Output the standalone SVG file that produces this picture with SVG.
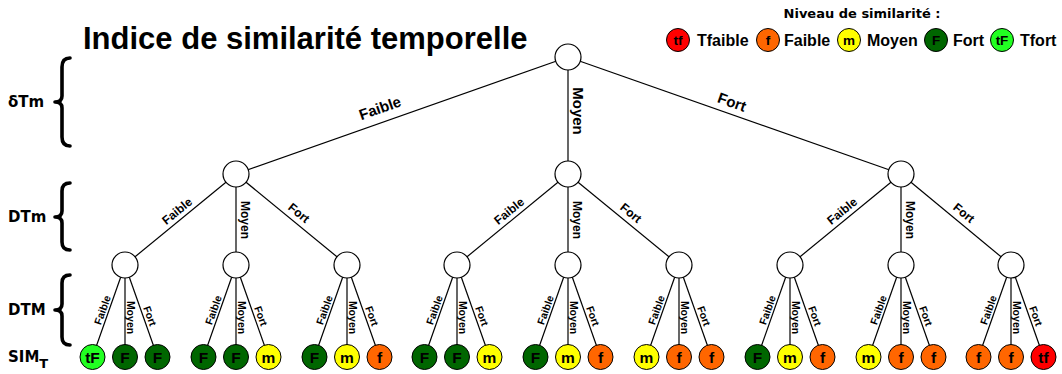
<svg xmlns="http://www.w3.org/2000/svg" width="1062" height="374" viewBox="0 0 1062 374">
<style>
.n{fill:#fff;stroke:#000;stroke-width:1.2}
.c{stroke:#000;stroke-width:1.2;fill:none}
.br{stroke:#000;stroke-width:3.6;fill:none;stroke-linecap:round;stroke-linejoin:round}
.lv{stroke:#000;stroke-width:1}
.tF{fill:#22ff22}.F{fill:#006600}.m{fill:#ffff00}.f{fill:#ff6600}.tf{fill:#ff0000}
text{font-family:"Liberation Sans",Arial,sans-serif;font-weight:bold;fill:#000}
.e1{font-size:15px;text-anchor:middle}
.e2{font-size:12px;text-anchor:middle}
.e3{font-size:10.5px;text-anchor:middle}
.lt{font-size:15.5px;text-anchor:middle}
.gt{font-size:13.5px;text-anchor:middle}
.side{font-family:"DejaVu Sans",sans-serif;font-size:15px}
.lg{font-size:16px}
</style>
<g id="title"><text x="83" y="49" style="font-size:31px">Indice de similarité temporelle</text></g>
<g id="legend">
<text x="862" y="18" style="font-family:'DejaVu Sans',sans-serif;font-size:13px;text-anchor:middle">Niveau de similarité :</text>
<circle class="lv tf" cx="678" cy="40" r="11.5"/><text class="gt" x="678" y="45">tf</text><text class="lg" x="697" y="46">Tfaible</text>
<circle class="lv f" cx="768" cy="40" r="11.5"/><text class="gt" x="768" y="45">f</text><text class="lg" x="784" y="46">Faible</text>
<circle class="lv m" cx="849" cy="40" r="11.5"/><text class="gt" x="849" y="45">m</text><text class="lg" x="867" y="46">Moyen</text>
<circle class="lv F" cx="936" cy="40" r="11.5"/><text class="gt" x="936" y="45">F</text><text class="lg" x="953" y="46">Fort</text>
<circle class="lv tF" cx="1002" cy="40" r="11.5"/><text class="gt" x="1002" y="45">tF</text><text class="lg" x="1020" y="46">Tfort</text>
</g>
<g id="levels">
<text class="side" x="8" y="107">δTm</text>
<path class="br" d="M70 58 Q62 58 62 67 L62 96 Q62 102 55 102 Q62 102 62 108 L62 137 Q62 146 70 146"/>
<text class="side" x="8" y="222">DTm</text>
<path class="br" d="M70 183 Q62 183 62 191 L62 211 Q62 217 55 217 Q62 217 62 223 L62 242 Q62 250 70 250"/>
<text class="side" x="8" y="315">DTM</text>
<path class="br" d="M70 275 Q62 275 62 283 L62 304 Q62 310 55 310 Q62 310 62 316 L62 337 Q62 345 70 345"/>
<text class="side" x="8" y="362">SIM<tspan dy="6" style="font-size:13px">T</tspan></text>
</g>
<g id="connectors">
<line class="c" x1="568" y1="57" x2="236" y2="174"/>
<line class="c" x1="568" y1="57" x2="568" y2="174"/>
<line class="c" x1="568" y1="57" x2="901" y2="174"/>
<line class="c" x1="236" y1="174" x2="125" y2="265"/>
<line class="c" x1="236" y1="174" x2="236" y2="265"/>
<line class="c" x1="236" y1="174" x2="347" y2="265"/>
<line class="c" x1="568" y1="174" x2="457" y2="265"/>
<line class="c" x1="568" y1="174" x2="568" y2="265"/>
<line class="c" x1="568" y1="174" x2="679" y2="265"/>
<line class="c" x1="901" y1="174" x2="790" y2="265"/>
<line class="c" x1="901" y1="174" x2="901" y2="265"/>
<line class="c" x1="901" y1="174" x2="1011" y2="265"/>
<line class="c" x1="125" y1="265" x2="92.5" y2="357"/><line class="c" x1="125" y1="265" x2="125" y2="357"/><line class="c" x1="125" y1="265" x2="157.5" y2="357"/>
<line class="c" x1="236" y1="265" x2="203.5" y2="357"/><line class="c" x1="236" y1="265" x2="236" y2="357"/><line class="c" x1="236" y1="265" x2="268.5" y2="357"/>
<line class="c" x1="347" y1="265" x2="314.5" y2="357"/><line class="c" x1="347" y1="265" x2="347" y2="357"/><line class="c" x1="347" y1="265" x2="379.5" y2="357"/>
<line class="c" x1="457" y1="265" x2="424.5" y2="357"/><line class="c" x1="457" y1="265" x2="457" y2="357"/><line class="c" x1="457" y1="265" x2="489.5" y2="357"/>
<line class="c" x1="568" y1="265" x2="535.5" y2="357"/><line class="c" x1="568" y1="265" x2="568" y2="357"/><line class="c" x1="568" y1="265" x2="600.5" y2="357"/>
<line class="c" x1="679" y1="265" x2="646.5" y2="357"/><line class="c" x1="679" y1="265" x2="679" y2="357"/><line class="c" x1="679" y1="265" x2="711.5" y2="357"/>
<line class="c" x1="790" y1="265" x2="757.5" y2="357"/><line class="c" x1="790" y1="265" x2="790" y2="357"/><line class="c" x1="790" y1="265" x2="822.5" y2="357"/>
<line class="c" x1="901" y1="265" x2="868.5" y2="357"/><line class="c" x1="901" y1="265" x2="901" y2="357"/><line class="c" x1="901" y1="265" x2="933.5" y2="357"/>
<line class="c" x1="1011" y1="265" x2="978.5" y2="357"/><line class="c" x1="1011" y1="265" x2="1011" y2="357"/><line class="c" x1="1011" y1="265" x2="1043.5" y2="357"/>
</g>
<g id="edge-labels">
<text class="e1" transform="translate(380,108) rotate(-19.4)" dy="0.35em">Faible</text>
<text class="e1" transform="translate(578,111) rotate(90)" dy="0.35em">Moyen</text>
<text class="e1" transform="translate(732,102) rotate(19.4)" dy="0.35em">Fort</text>
<text class="e2" transform="translate(177,211) rotate(-39.3)" dy="0.35em">Faible</text>
<text class="e2" transform="translate(245,220) rotate(90)" dy="0.35em">Moyen</text>
<text class="e2" transform="translate(299,213) rotate(39.3)" dy="0.35em">Fort</text>
<text class="e2" transform="translate(509,211) rotate(-39.3)" dy="0.35em">Faible</text>
<text class="e2" transform="translate(577,220) rotate(90)" dy="0.35em">Moyen</text>
<text class="e2" transform="translate(631,213) rotate(39.3)" dy="0.35em">Fort</text>
<text class="e2" transform="translate(842,211) rotate(-39.3)" dy="0.35em">Faible</text>
<text class="e2" transform="translate(910,220) rotate(90)" dy="0.35em">Moyen</text>
<text class="e2" transform="translate(964,213) rotate(39.3)" dy="0.35em">Fort</text>
<g id="leaf-labels">
<text class="e3" transform="translate(102.5,310) rotate(-70.3)" dy="0.35em">Faible</text><text class="e3" transform="translate(130.5,317.5) rotate(90)" dy="0.35em">Moyen</text><text class="e3" transform="translate(150,316) rotate(70.3)" dy="0.35em">Fort</text>
<text class="e3" transform="translate(213.5,310) rotate(-70.3)" dy="0.35em">Faible</text><text class="e3" transform="translate(241.5,317.5) rotate(90)" dy="0.35em">Moyen</text><text class="e3" transform="translate(261,316) rotate(70.3)" dy="0.35em">Fort</text>
<text class="e3" transform="translate(324.5,310) rotate(-70.3)" dy="0.35em">Faible</text><text class="e3" transform="translate(352.5,317.5) rotate(90)" dy="0.35em">Moyen</text><text class="e3" transform="translate(372,316) rotate(70.3)" dy="0.35em">Fort</text>
<text class="e3" transform="translate(434.5,310) rotate(-70.3)" dy="0.35em">Faible</text><text class="e3" transform="translate(462.5,317.5) rotate(90)" dy="0.35em">Moyen</text><text class="e3" transform="translate(482,316) rotate(70.3)" dy="0.35em">Fort</text>
<text class="e3" transform="translate(545.5,310) rotate(-70.3)" dy="0.35em">Faible</text><text class="e3" transform="translate(573.5,317.5) rotate(90)" dy="0.35em">Moyen</text><text class="e3" transform="translate(593,316) rotate(70.3)" dy="0.35em">Fort</text>
<text class="e3" transform="translate(656.5,310) rotate(-70.3)" dy="0.35em">Faible</text><text class="e3" transform="translate(684.5,317.5) rotate(90)" dy="0.35em">Moyen</text><text class="e3" transform="translate(704,316) rotate(70.3)" dy="0.35em">Fort</text>
<text class="e3" transform="translate(767.5,310) rotate(-70.3)" dy="0.35em">Faible</text><text class="e3" transform="translate(795.5,317.5) rotate(90)" dy="0.35em">Moyen</text><text class="e3" transform="translate(815,316) rotate(70.3)" dy="0.35em">Fort</text>
<text class="e3" transform="translate(878.5,310) rotate(-70.3)" dy="0.35em">Faible</text><text class="e3" transform="translate(906.5,317.5) rotate(90)" dy="0.35em">Moyen</text><text class="e3" transform="translate(926,316) rotate(70.3)" dy="0.35em">Fort</text>
<text class="e3" transform="translate(988.5,310) rotate(-70.3)" dy="0.35em">Faible</text><text class="e3" transform="translate(1016.5,317.5) rotate(90)" dy="0.35em">Moyen</text><text class="e3" transform="translate(1036,316) rotate(70.3)" dy="0.35em">Fort</text>
</g>
</g>
<g id="root"><circle class="n" cx="568" cy="57" r="13"/></g>
<g id="n-faible"><circle class="n" cx="236" cy="174" r="13"/></g>
<g id="n-moyen"><circle class="n" cx="568" cy="174" r="13"/></g>
<g id="n-fort"><circle class="n" cx="901" cy="174" r="13"/></g>
<g id="n-ff"><circle class="n" cx="125" cy="265" r="13"/></g>
<g id="n-fm"><circle class="n" cx="236" cy="265" r="13"/></g>
<g id="n-fF"><circle class="n" cx="347" cy="265" r="13"/></g>
<g id="n-mf"><circle class="n" cx="457" cy="265" r="13"/></g>
<g id="n-mm"><circle class="n" cx="568" cy="265" r="13"/></g>
<g id="n-mF"><circle class="n" cx="679" cy="265" r="13"/></g>
<g id="n-Ff"><circle class="n" cx="790" cy="265" r="13"/></g>
<g id="n-Fm"><circle class="n" cx="901" cy="265" r="13"/></g>
<g id="n-FF"><circle class="n" cx="1011" cy="265" r="13"/></g>
<g id="leaves">
<g id="l1"><circle class="lv tF" cx="92.5" cy="357" r="12.5"/><text class="lt" x="92.5" y="362.5">tF</text></g>
<g id="l2"><circle class="lv F" cx="125" cy="357" r="12.5"/><text class="lt" x="125" y="362.5">F</text></g>
<g id="l3"><circle class="lv F" cx="157.5" cy="357" r="12.5"/><text class="lt" x="157.5" y="362.5">F</text></g>
<g id="l4"><circle class="lv F" cx="203.5" cy="357" r="12.5"/><text class="lt" x="203.5" y="362.5">F</text></g>
<g id="l5"><circle class="lv F" cx="236" cy="357" r="12.5"/><text class="lt" x="236" y="362.5">F</text></g>
<g id="l6"><circle class="lv m" cx="268.5" cy="357" r="12.5"/><text class="lt" x="268.5" y="362.5">m</text></g>
<g id="l7"><circle class="lv F" cx="314.5" cy="357" r="12.5"/><text class="lt" x="314.5" y="362.5">F</text></g>
<g id="l8"><circle class="lv m" cx="347" cy="357" r="12.5"/><text class="lt" x="347" y="362.5">m</text></g>
<g id="l9"><circle class="lv f" cx="379.5" cy="357" r="12.5"/><text class="lt" x="379.5" y="362.5">f</text></g>
<g id="l10"><circle class="lv F" cx="424.5" cy="357" r="12.5"/><text class="lt" x="424.5" y="362.5">F</text></g>
<g id="l11"><circle class="lv F" cx="457" cy="357" r="12.5"/><text class="lt" x="457" y="362.5">F</text></g>
<g id="l12"><circle class="lv m" cx="489.5" cy="357" r="12.5"/><text class="lt" x="489.5" y="362.5">m</text></g>
<g id="l13"><circle class="lv F" cx="535.5" cy="357" r="12.5"/><text class="lt" x="535.5" y="362.5">F</text></g>
<g id="l14"><circle class="lv m" cx="568" cy="357" r="12.5"/><text class="lt" x="568" y="362.5">m</text></g>
<g id="l15"><circle class="lv f" cx="600.5" cy="357" r="12.5"/><text class="lt" x="600.5" y="362.5">f</text></g>
<g id="l16"><circle class="lv m" cx="646.5" cy="357" r="12.5"/><text class="lt" x="646.5" y="362.5">m</text></g>
<g id="l17"><circle class="lv f" cx="679" cy="357" r="12.5"/><text class="lt" x="679" y="362.5">f</text></g>
<g id="l18"><circle class="lv f" cx="711.5" cy="357" r="12.5"/><text class="lt" x="711.5" y="362.5">f</text></g>
<g id="l19"><circle class="lv F" cx="757.5" cy="357" r="12.5"/><text class="lt" x="757.5" y="362.5">F</text></g>
<g id="l20"><circle class="lv m" cx="790" cy="357" r="12.5"/><text class="lt" x="790" y="362.5">m</text></g>
<g id="l21"><circle class="lv f" cx="822.5" cy="357" r="12.5"/><text class="lt" x="822.5" y="362.5">f</text></g>
<g id="l22"><circle class="lv m" cx="868.5" cy="357" r="12.5"/><text class="lt" x="868.5" y="362.5">m</text></g>
<g id="l23"><circle class="lv f" cx="901" cy="357" r="12.5"/><text class="lt" x="901" y="362.5">f</text></g>
<g id="l24"><circle class="lv f" cx="933.5" cy="357" r="12.5"/><text class="lt" x="933.5" y="362.5">f</text></g>
<g id="l25"><circle class="lv f" cx="978.5" cy="357" r="12.5"/><text class="lt" x="978.5" y="362.5">f</text></g>
<g id="l26"><circle class="lv f" cx="1011" cy="357" r="12.5"/><text class="lt" x="1011" y="362.5">f</text></g>
<g id="l27"><circle class="lv tf" cx="1043.5" cy="357" r="12.5"/><text class="lt" x="1043.5" y="362.5">tf</text></g>
</g>
</svg>
